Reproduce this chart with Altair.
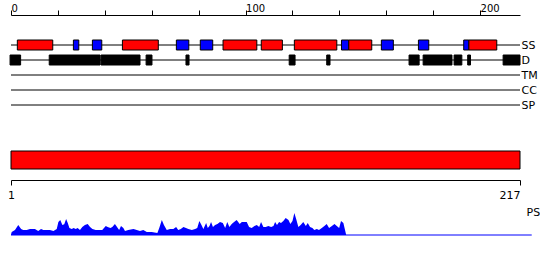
import altair as alt
import pandas as pd

FONT = "DejaVu Sans"

# ---- track rows ----
tracks = ["SS", "D", "TM", "CC", "SP"]
seq_len = 217

# secondary structure elements (H = helix, E = strand)
ss_start = [2.7, 26.6, 34.7, 47.5, 70.5, 80.7, 90.4, 106.7, 120.8, 140.9, 144.0, 157.9, 173.7, 193.0, 195.2]
ss_end   = [17.8, 28.9, 38.7, 62.8, 75.8, 86.0, 104.8, 115.7, 138.9, 144.0, 153.8, 163.0, 178.1, 195.2, 207.1]
ss_type  = ["H", "E", "E", "H", "E", "E", "H", "H", "H", "E", "H", "E", "E", "E", "H"]

# disordered regions
d_start = [-0.4, 16.3, 38.4, 57.6, 74.6, 118.6, 134.6, 169.7, 175.7, 188.9, 194.7, 209.8]
d_end   = [4.1, 38.0, 55.0, 60.1, 75.9, 121.1, 136.0, 174.0, 188.0, 192.2, 195.9, 217.0]

# PS profile
ps_pos = [0, 0.3, 1.7, 3.1, 4.3, 5.2, 6.7, 8.1, 10.2, 11.6, 12.8, 13.8, 15.2, 16.6, 18.1, 19.5,
          20.2, 21.0, 21.9, 22.7, 23.5, 24.2, 24.9, 25.9, 26.7, 27.6, 28.4, 29.4, 30.4, 31.5,
          32.7, 33.7, 34.7, 36.1, 37.5, 38.9, 40.4, 41.2, 42.4, 43.2, 44.3, 45.2, 46.1, 46.9,
          47.9, 48.6, 50.0, 52.2, 53.6, 55.0, 56.4, 57.9, 60.0, 62.4, 63.2, 64.3, 65.2, 66.4,
          67.8, 69.2, 70.4, 71.3, 72.4, 73.5, 74.6, 75.6, 77.1, 78.5, 79.4, 80.3, 81.2, 82.0,
          83.2, 83.9, 84.6, 85.3, 86.1, 87.0, 88.0, 89.1, 90.3, 91.3, 92.2, 93.1, 94.1, 95.1,
          96.2, 97.5, 98.4, 99.5, 100.5, 101.5, 102.6, 103.8, 104.8, 105.8, 106.6, 107.6, 108.6,
          109.7, 110.9, 111.9, 112.6, 113.4, 114.3, 115.1, 116.1, 117.1, 118.3, 119.1, 120.0,
          120.8, 121.7, 122.5, 123.5, 124.6, 125.7, 126.5, 127.5, 128.5, 129.3, 130.4, 131.3,
          132.5, 133.6, 134.6, 135.6, 136.8, 137.9, 138.9, 139.9, 140.7, 141.7, 142.4, 142.9]
ps_val = [0.5, 3, 5, 10, 6, 5, 5, 6, 6, 4, 6, 5, 5, 5, 4, 6,
          13, 15, 10, 10.7, 16, 12, 7, 6, 7, 6, 7, 5, 8, 10,
          11, 8, 6, 5, 5, 5, 9, 8, 7, 8, 11, 8, 5, 9,
          7, 4, 5, 6, 5, 4, 5, 3, 3, 2, 7, 15, 10, 5,
          6, 6, 8, 5, 6, 8, 7, 6, 5, 6, 7, 14, 10, 6,
          12, 7, 9, 13, 8, 10, 11, 13, 12, 7, 13, 8, 11, 13,
          15, 11, 13, 13, 13, 8, 7, 9, 10, 8, 13, 8, 8,
          9, 8, 9, 13, 10, 13, 12, 14, 17, 15, 11, 14,
          22, 15, 8, 10, 13, 9, 12, 8, 7, 5, 6, 5,
          7, 9, 11, 7, 9, 11, 9, 7, 14, 12, 5, 0]
ps_line_end = 222

bottom_ticks = [1, 217]

# ---- data frames ----
rows_df = pd.DataFrame({"track": tracks, "start": [0] * len(tracks), "end": [seq_len] * len(tracks)})
ss_df = pd.DataFrame({"track": "SS", "start": ss_start, "end": ss_end, "type": ss_type})
d_df = pd.DataFrame({"track": "D", "start": d_start, "end": d_end})
ps_df = pd.DataFrame({"pos": ps_pos, "val": ps_val})
full_df = pd.DataFrame({"start": [bottom_ticks[0]], "end": [bottom_ticks[1]]})
base_df = pd.DataFrame({"start": [0], "end": [ps_line_end], "val": [0]})

W = 509
xs_top = alt.Scale(domain=[0, seq_len], nice=False, zero=False)
ys = alt.Scale(type="point", domain=tracks, range=[30, 90], padding=0)

top_axis = alt.Axis(
    orient="top", values=list(range(0, 211, 10)),
    labelExpr="datum.value % 50 == 0 ? datum.label : ''",
    tickSize=5, labelAlign="left", labelBaseline="alphabetic", labelPadding=-1,
    labelFontSize=10, labelFont=FONT, labelColor="black", domainColor="black",
    tickColor="black", grid=False, title=None, labelFlush=False,
)
right_axis = alt.Axis(
    orient="right", domain=False, ticks=False, labelPadding=1, labelFontSize=11,
    labelFont=FONT, labelColor="black", title=None, grid=False,
)

rules = alt.Chart(rows_df).mark_rule(color="black", strokeWidth=1).encode(
    x=alt.X("start:Q", scale=xs_top, axis=top_axis),
    x2="end:Q",
    y=alt.Y("track:N", scale=ys, axis=right_axis),
)
ss_bars = alt.Chart(ss_df).mark_bar(height=10, stroke="black", strokeWidth=1).encode(
    x=alt.X("start:Q", scale=xs_top),
    x2="end:Q",
    y=alt.Y("track:N", scale=ys),
    color=alt.Color("type:N", scale=alt.Scale(domain=["H", "E"], range=["#ff0000", "#0000ff"]), legend=None),
)
d_bars = alt.Chart(d_df).mark_bar(height=10, color="black", stroke="black", strokeWidth=1).encode(
    x=alt.X("start:Q", scale=xs_top),
    x2="end:Q",
    y=alt.Y("track:N", scale=ys),
)
top = alt.layer(rules, ss_bars, d_bars).properties(width=W, height=120)

bottom_axis = alt.Axis(
    orient="bottom", values=bottom_ticks, offset=10, tickSize=5, labelPadding=4,
    labelFontSize=11, labelFont=FONT, labelColor="black", domainColor="black",
    tickColor="black", grid=False, title=None, labelFlush=False,
    labelAlign={"condition": {"test": "datum.value == 217", "value": "right"}, "value": "center"},
)
mid = alt.Chart(full_df).mark_bar(color="#ff0000", stroke="black", strokeWidth=1).encode(
    x=alt.X("start:Q", scale=alt.Scale(domain=bottom_ticks, nice=False, zero=False), axis=bottom_axis),
    x2="end:Q",
).properties(width=W, height=20)

xs_ps = alt.Scale(domain=[0, seq_len], nice=False, zero=False)
ys_ps = alt.Scale(domain=[0, 30], nice=False)
ps_axis = alt.Axis(
    orient="right", domain=False, ticks=False, labels=False, grid=False, title="PS",
    titleAngle=0, titleAlign="left", titleBaseline="top", titleX=6, titleY=1,
    titleFont=FONT, titleFontSize=11, titleFontWeight="normal", titleColor="black",
)
base = alt.Chart(base_df).mark_rule(color="#0000ff", strokeWidth=1).encode(
    x=alt.X("start:Q", scale=xs_ps, axis=None),
    x2="end:Q",
    y=alt.Y("val:Q", scale=ys_ps, axis=ps_axis),
)
area = alt.Chart(ps_df).mark_area(color="#0000ff", opacity=1).encode(
    x=alt.X("pos:Q", scale=xs_ps, axis=None),
    y=alt.Y("val:Q", scale=ys_ps, axis=ps_axis),
)
ps = alt.layer(base, area).properties(width=W, height=30)

chart = alt.vconcat(
    top,
    alt.vconcat(mid, ps, spacing=5),
    spacing=15,
).properties(
    padding={"top": 3, "left": 7, "right": 0, "bottom": 0},
    background="white",
).configure_view(strokeWidth=0).configure_concat(spacing=15)

chart.save("out.html", embed_options={"renderer": "svg", "actions": False})
